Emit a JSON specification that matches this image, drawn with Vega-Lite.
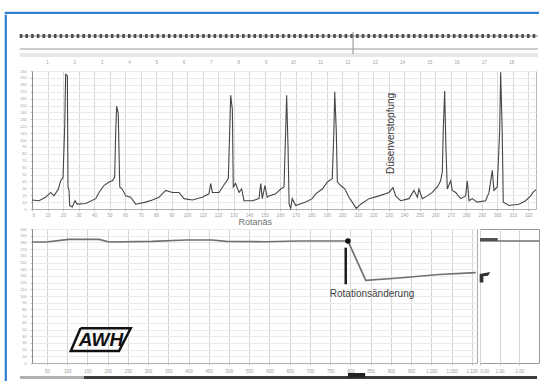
{
  "$schema": "https://vega.github.io/schema/vega-lite/v6.json",
  "background": "white",
  "padding": {"left": 4, "top": 11, "right": 0, "bottom": 0},
  "spacing": 0,
  "config": {
    "font": "Liberation Sans",
    "view": {"stroke": null},
    "axis": {
      "labelFont": "Liberation Sans",
      "labelFontSize": 4.5,
      "labelColor": "#a0a0a0",
      "labelOverlap": false,
      "labelPadding": 1.5,
      "tickColor": "#c8c8c8",
      "tickSize": 2,
      "tickCount": 200,
      "domainColor": "#b0b0b0",
      "gridColor": "#e0e0e0",
      "gridWidth": 1,
      "title": null
    }
  },
  "datasets": {
    "sig": [
      {"x":0,"y":13},{"x":4.5,"y":12},{"x":8.8,"y":17},{"x":12.1,"y":24},{"x":14.2,"y":19},{"x":17,"y":29},{"x":18.5,"y":41},{"x":20,"y":46},{"x":21.1,"y":120},{"x":21.7,"y":195},{"x":22.8,"y":193},{"x":23.2,"y":32},{"x":23.9,"y":27},{"x":24.3,"y":5},{"x":26,"y":3},{"x":27.7,"y":12},{"x":29.2,"y":7},{"x":34.6,"y":8},{"x":41.1,"y":15},{"x":43.2,"y":24},{"x":46.4,"y":34},{"x":49.7,"y":39},{"x":51.8,"y":41},{"x":53.3,"y":46},{"x":54,"y":114},{"x":54.6,"y":149},{"x":55.6,"y":139},{"x":56.6,"y":32},{"x":58.2,"y":29},{"x":60.4,"y":19},{"x":63.6,"y":17},{"x":66.9,"y":7},{"x":73.3,"y":10},{"x":77.6,"y":13},{"x":81.9,"y":17},{"x":86.2,"y":27},{"x":90.5,"y":24},{"x":94.8,"y":24},{"x":98,"y":15},{"x":103.4,"y":13},{"x":109.8,"y":17},{"x":114.1,"y":22},{"x":115.2,"y":37},{"x":116.3,"y":24},{"x":120.6,"y":24},{"x":124.4,"y":37},{"x":126.6,"y":44},{"x":127.5,"y":114},{"x":128.1,"y":165},{"x":129.2,"y":144},{"x":129.8,"y":32},{"x":131.3,"y":37},{"x":133.5,"y":24},{"x":135.2,"y":29},{"x":136.7,"y":12},{"x":142.1,"y":12},{"x":146.4,"y":15},{"x":147.5,"y":37},{"x":148.5,"y":15},{"x":150.2,"y":34},{"x":151.7,"y":17},{"x":152.8,"y":19},{"x":157.1,"y":22},{"x":160.4,"y":29},{"x":162.5,"y":32},{"x":163.6,"y":114},{"x":164.2,"y":165},{"x":165.1,"y":90},{"x":165.8,"y":7},{"x":166.8,"y":1},{"x":167.8,"y":15},{"x":170,"y":5},{"x":176.5,"y":10},{"x":180.7,"y":15},{"x":182.9,"y":22},{"x":187.2,"y":29},{"x":190.4,"y":39},{"x":193.6,"y":44},{"x":194.7,"y":114},{"x":195.2,"y":170},{"x":196.2,"y":114},{"x":196.9,"y":39},{"x":199.1,"y":34},{"x":201.8,"y":29},{"x":204.4,"y":17},{"x":206.5,"y":10},{"x":209.1,"y":1},{"x":212,"y":7},{"x":217.3,"y":15},{"x":223.8,"y":19},{"x":230.2,"y":24},{"x":232.8,"y":31},{"x":234.5,"y":19},{"x":237.7,"y":12},{"x":243.1,"y":15},{"x":246.3,"y":27},{"x":248.5,"y":17},{"x":249.5,"y":29},{"x":251.7,"y":15},{"x":254.9,"y":19},{"x":258.1,"y":24},{"x":261.4,"y":32},{"x":263.5,"y":41},{"x":264.6,"y":54},{"x":265.2,"y":114},{"x":266.1,"y":171},{"x":266.9,"y":90},{"x":267.8,"y":29},{"x":270,"y":41},{"x":271,"y":27},{"x":273.2,"y":24},{"x":276.4,"y":15},{"x":279.6,"y":19},{"x":280.7,"y":41},{"x":281.8,"y":12},{"x":283.9,"y":15},{"x":287.1,"y":10},{"x":292.5,"y":12},{"x":294.7,"y":24},{"x":296.8,"y":56},{"x":297.9,"y":27},{"x":300,"y":32},{"x":301.6,"y":114},{"x":302.2,"y":198},{"x":303.2,"y":114},{"x":303.9,"y":10},{"x":307.6,"y":5},{"x":314,"y":7},{"x":318.3,"y":12},{"x":321.6,"y":19},{"x":323.1,"y":24},{"x":325,"y":28}
    ],
    "rot": [
      {"x":13,"y":180.6},{"x":48,"y":180.6},{"x":104,"y":184.6},{"x":179,"y":184.6},{"x":203,"y":180.6},{"x":310,"y":181.6},{"x":394,"y":183.6},{"x":458,"y":183.6},{"x":493,"y":181.6},{"x":591,"y":181},{"x":673,"y":182.1},{"x":794,"y":182.1},{"x":838,"y":123.4},{"x":920,"y":126.9},{"x":1019,"y":132.1},{"x":1110,"y":134.8}
    ],
    "logo": [
      {"x":133,"y":51.8,"o":1},{"x":257,"y":51.8,"o":2},{"x":228,"y":17.9,"o":3},{"x":109,"y":17.9,"o":4},{"x":133,"y":51.8,"o":5}
    ]
  },
  "vconcat": [
    {
      "width": 533, "height": 1,
      "data": {"values": [{}]},
      "mark": {"type": "point", "opacity": 0, "size": 0},
      "encoding": {},
      "view": {"stroke": "#2f80d0", "strokeWidth": 1.2}
    },
    {
      "spacing": 10,
      "hconcat": [
        {
          "width": 1, "height": 366,
          "data": {"values": [{}]},
          "mark": {"type": "point", "opacity": 0, "size": 0},
          "encoding": {},
          "view": {"stroke": "#2f80d0", "strokeWidth": 1.2}
        },
        {
          "spacing": -2,
          "vconcat": [
            {
              "spacing": 4,
              "vconcat": [
                {
                  "width": 504, "height": 41,
                  "view": {"fill": "white", "stroke": null},
                  "layer": [
                    {
                      "data": {"values": [{"from": 0, "to": 18.98, "level": 4.88}]},
                      "mark": {"type": "rule", "color": "#8a8a8a", "strokeWidth": 1},
                      "encoding": {
                        "x": {"field": "from", "type": "quantitative", "scale": {"domain": [0.45, 18.91], "nice": false, "zero": false}, "axis": {"values": [1,2,3,4,5,6,7,8,9,10,11,12,13,14,15,16,17,18], "format": "d", "tickCount": 200, "labelOverlap": false, "domain": false, "ticks": false, "grid": false, "labelPadding": 3}},
                        "x2": {"field": "to"},
                        "y": {"field": "level", "type": "quantitative", "scale": {"domain": [0, 10]}, "axis": null}
                      }
                    },
                    {
                      "data": {"values": [{"from": 0, "to": 18.98, "level": 4.88}]},
                      "mark": {"type": "rule", "color": "#4e4e4e", "strokeWidth": 4, "strokeDash": [2.6, 3.1]},
                      "encoding": {"x": {"field": "from", "type": "quantitative"}, "x2": {"field": "to"}, "y": {"field": "level", "type": "quantitative"}}
                    },
                    {
                      "data": {"values": [{"from": 0, "to": 18.98, "level": 1.71}]},
                      "mark": {"type": "rule", "color": "#9a9a9a", "strokeWidth": 1.2},
                      "encoding": {"x": {"field": "from", "type": "quantitative"}, "x2": {"field": "to"}, "y": {"field": "level", "type": "quantitative"}}
                    },
                    {
                      "data": {"values": [{"from": 0, "to": 18.98, "level": 0.49}, {"from": 0, "to": 18.98, "level": 0}]},
                      "mark": {"type": "rule", "color": "#d0d0d0", "strokeWidth": 1},
                      "encoding": {"x": {"field": "from", "type": "quantitative"}, "x2": {"field": "to"}, "y": {"field": "level", "type": "quantitative"}}
                    },
                    {
                      "data": {"values": [{"at": 12.21, "lo": 0.49, "hi": 5.85}]},
                      "mark": {"type": "rule", "color": "#8a8a8a", "strokeWidth": 1},
                      "encoding": {"x": {"field": "at", "type": "quantitative"}, "y": {"field": "lo", "type": "quantitative"}, "y2": {"field": "hi"}}
                    }
                  ]
                },
                {
                  "width": 504, "height": 138,
                  "view": {"stroke": "#b8b8b8", "fill": "white"},
                  "layer": [
                    {
                      "data": {"name": "sig"},
                      "mark": {"type": "line", "color": "#464646", "strokeWidth": 1.1},
                      "encoding": {
                        "x": {"field": "x", "type": "quantitative", "scale": {"domain": [0, 325], "nice": false, "zero": false},
                          "axis": {"values": [0,10,20,30,40,50,60,70,80,90,100,110,120,130,140,150,160,170,180,190,200,210,220,230,240,250,260,270,280,290,300,310,320], "tickCount": 200, "labelOverlap": false, "gridColor": "#d8d8d8"}},
                        "y": {"field": "y", "type": "quantitative", "scale": {"domain": [0, 200], "nice": false},
                          "axis": {"values": [0,10,20,30,40,50,60,70,80,90,100,110,120,130,140,150,160,170,180,190,200], "tickCount": 200, "labelOverlap": false, "labelFontSize": 3.8, "labelPadding": 4, "gridColor": "#ebebeb", "domainColor": "#8a8a8a"}}
                      }
                    },
                    {
                      "data": {"values": [{"label": "Düsenverstopfung", "x": 231.5, "y": 109.5}]},
                      "mark": {"type": "text", "angle": 270, "fontSize": 10, "color": "#3a3a3a"},
                      "encoding": {"x": {"field": "x", "type": "quantitative"}, "y": {"field": "y", "type": "quantitative"}, "text": {"field": "label"}}
                    },
                    {
                      "data": {"values": [{"label": "Rotanäs", "x": 144, "y": -18.5}]},
                      "mark": {"type": "text", "fontSize": 9, "color": "#707070"},
                      "encoding": {"x": {"field": "x", "type": "quantitative"}, "y": {"field": "y", "type": "quantitative"}, "text": {"field": "label"}}
                    }
                  ]
                }
              ]
            },
            {
              "spacing": 0,
              "vconcat": [
                {
                  "spacing": -10,
                  "hconcat": [
                    {
                      "width": 445, "height": 134,
                      "view": {"stroke": "#a8a8a8", "fill": "white"},
                      "layer": [
                        {
                          "data": {"name": "rot"},
                          "mark": {"type": "line", "color": "#707070", "strokeWidth": 1.7},
                          "encoding": {
                            "x": {"field": "x", "type": "quantitative", "scale": {"domain": [13, 1113], "nice": false, "zero": false},
                              "axis": {"values": [50,100,150,200,250,300,350,400,450,500,550,600,650,700,750,800,850,900,950,1000,1050,1100], "tickCount": 200, "labelOverlap": false, "gridColor": "#d4d4d4", "labelPadding": 3}},
                            "y": {"field": "y", "type": "quantitative", "scale": {"domain": [0, 200], "nice": false},
                              "axis": {"values": [0,10,20,30,40,50,60,70,80,90,100,110,120,130,140,150,160,170,180,190,200], "tickCount": 200, "labelOverlap": false, "labelFontSize": 3.8, "labelPadding": 4, "gridColor": "#ebebeb", "domainColor": "#8a8a8a"}}
                          }
                        },
                        {
                          "data": {"values": [{"x": 788.5, "lo": 117.5, "hi": 172.1}]},
                          "mark": {"type": "rule", "color": "#1e1e1e", "strokeWidth": 2.5},
                          "encoding": {"x": {"field": "x", "type": "quantitative"}, "y": {"field": "lo", "type": "quantitative"}, "y2": {"field": "hi"}}
                        },
                        {
                          "data": {"values": [{"x": 794, "y": 182.1}]},
                          "mark": {"type": "point", "filled": true, "color": "#111111", "size": 30, "opacity": 1},
                          "encoding": {"x": {"field": "x", "type": "quantitative"}, "y": {"field": "y", "type": "quantitative"}}
                        },
                        {
                          "data": {"values": [{"label": "Rotationsänderung", "x": 853.5, "y": 103}]},
                          "mark": {"type": "text", "fontSize": 10, "color": "#404040"},
                          "encoding": {"x": {"field": "x", "type": "quantitative"}, "y": {"field": "y", "type": "quantitative"}, "text": {"field": "label"}}
                        },
                        {
                          "data": {"name": "logo"},
                          "mark": {"type": "line", "color": "#111111", "strokeWidth": 2.5, "strokeJoin": "miter"},
                          "encoding": {"x": {"field": "x", "type": "quantitative"}, "y": {"field": "y", "type": "quantitative"}, "order": {"field": "o"}}
                        },
                        {
                          "data": {"values": [{"label": "AWH", "x": 183.6, "y": 35}]},
                          "mark": {"type": "text", "fontSize": 19, "fontWeight": 900, "fontStyle": "italic", "color": "#111111", "font": "Liberation Sans"},
                          "encoding": {"x": {"field": "x", "type": "quantitative"}, "y": {"field": "y", "type": "quantitative"}, "text": {"field": "label"}}
                        }
                      ]
                    },
                    {
                      "width": 59, "height": 134,
                      "view": {"stroke": "#999999", "fill": "white"},
                      "layer": [
                        {
                          "data": {"values": [{"x": 0, "y": 182.1}, {"x": 3, "y": 182.1}]},
                          "mark": {"type": "line", "color": "#707070", "strokeWidth": 1.7},
                          "encoding": {
                            "x": {"field": "x", "type": "quantitative", "scale": {"domain": [0, 3], "nice": false, "zero": false},
                              "axis": {"values": [0, 1, 2], "format": ".2f", "tickCount": 200, "labelOverlap": false, "gridColor": "#d4d4d4", "labelPadding": 3, "domain": false}},
                            "y": {"field": "y", "type": "quantitative", "scale": {"domain": [0, 200], "nice": false}, "axis": null}
                          }
                        },
                        {
                          "data": {"values": [{"x": 0, "x2": 0.9, "y": 182.1, "y2": 186.6}]},
                          "mark": {"type": "rect", "color": "#505050"},
                          "encoding": {"x": {"field": "x", "type": "quantitative"}, "x2": {"field": "x2"}, "y": {"field": "y", "type": "quantitative"}, "y2": {"field": "y2"}}
                        },
                        {
                          "data": {"values": [{"x": 0.25, "y": 128}]},
                          "mark": {"type": "point", "filled": true, "color": "#333333", "opacity": 1, "size": 110, "shape": "M-1,-0.6L1,-1L0.6,-0.3L-0.3,-0.2L-0.3,1L-1,1Z"},
                          "encoding": {"x": {"field": "x", "type": "quantitative"}, "y": {"field": "y", "type": "quantitative"}}
                        }
                      ]
                    }
                  ]
                },
                {
                  "width": 504, "height": 3,
                  "layer": [
                    {
                      "data": {"values": [{"part": "left", "a": -2.4, "b": 10.3}, {"part": "track", "a": 10.3, "b": 100.2}]},
                      "mark": {"type": "rect"},
                      "encoding": {
                        "x": {"field": "a", "type": "quantitative", "scale": {"domain": [0, 100], "nice": false, "zero": false}, "axis": null},
                        "x2": {"field": "b"},
                        "y": {"datum": 0, "type": "quantitative", "scale": {"domain": [0, 1]}, "axis": null},
                        "y2": {"datum": 1},
                        "color": {"field": "part", "type": "nominal", "scale": {"domain": ["left", "track"], "range": ["#b0b0b0", "#3c3c3c"]}, "legend": null}
                      }
                    },
                    {
                      "data": {"values": [{"a": 62.7, "b": 66.1}]},
                      "mark": {"type": "rect", "color": "#222222"},
                      "encoding": {
                        "x": {"field": "a", "type": "quantitative"},
                        "x2": {"field": "b"},
                        "y": {"datum": 0.5, "type": "quantitative"},
                        "y2": {"datum": 2}
                      }
                    }
                  ]
                }
              ]
            }
          ]
        }
      ]
    }
  ]
}
